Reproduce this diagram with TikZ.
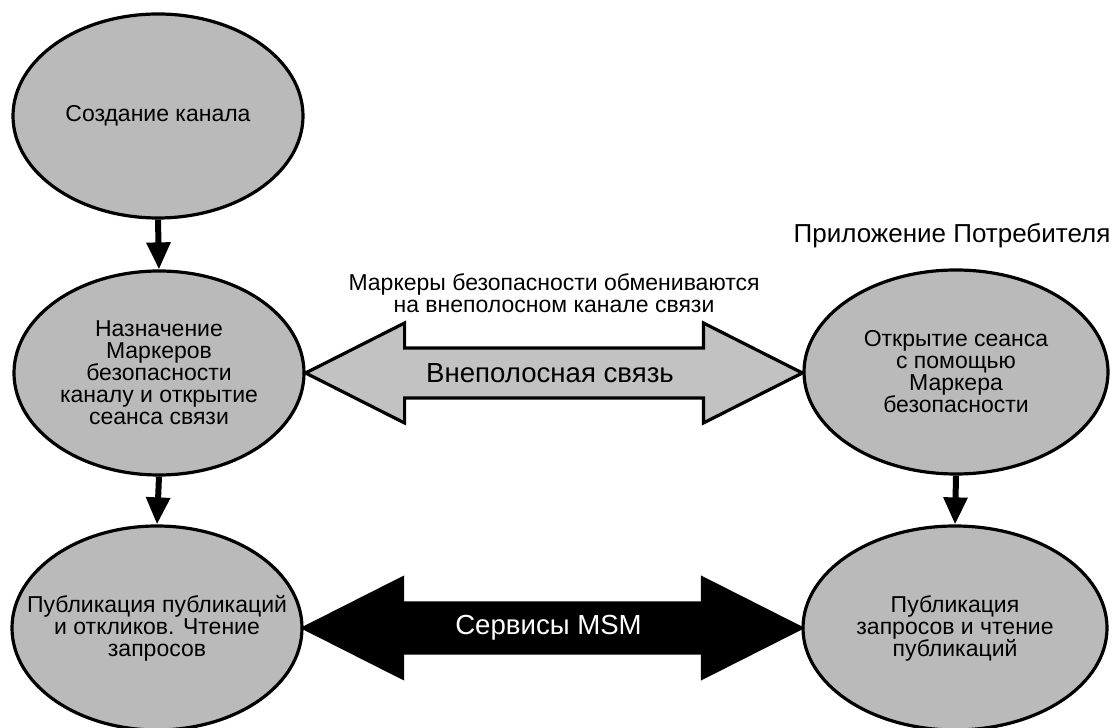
\documentclass[tikz,border=0pt]{standalone}
\usepackage{fontspec}
\setmainfont{Liberation Sans}
\usetikzlibrary{calc,positioning,arrows.meta,shapes.geometric}
\tikzset{
  >={Triangle[width=11.5pt,length=13.5pt]},
  state/.style={
    ellipse,
    draw=black, line width=1.6pt,
    fill=black!27,
    minimum width=145pt,
    minimum height=102pt
  },
  wide/.style={minimum width=152pt},
  statetext/.style={
    align=center,
    inner sep=0pt,
    font=\fontsize{11.5}{11}\selectfont
  },
  line/.style={draw, ->, line width=3pt},
  band/.style={draw=black, line width=1.6pt, line join=miter, fill=black!24},
  msm/.style={band, fill=black},
  bandtext/.style={font=\fontsize{13.8}{16}\selectfont},
}

\begin{document}
\begin{tikzpicture}[x=0.5pt, y=0.5pt]
  \useasboundingbox (0,0) rectangle (1117,727);
  % left column
  \node[state, label={[statetext]center:{Создание канала}}] (sk) at (158,611) {};
  \node[state, label={[statetext]center:{Назначение\\Маркеров\\безопасности\\каналу и открытие\\сеанса связи}}] (nm) at (159,354) {};
  \node[state, label={[statetext]center:{Публикация публикаций\\и откликов. Чтение\\запросов}}] (pp) at (157,99) {};
  % right column
  \node[state, wide, label={[statetext]center:{Открытие сеанса\\с помощью\\Маркера\\безопасности}}] (os) at (956,355) {};
  \node[state, wide, label={[statetext]center:{Публикация\\запросов и чтение\\публикаций}}] (pz) at (955,99) {};
  \node[statetext, font=\fontsize{13}{15}\selectfont] (app) at ($(os.north)+(-4,33)$) {Приложение Потребителя};

  \path[line] (sk.south) -- (nm.north);
  \path[line] (nm.south) -- (pp.north);
  \path[line] (os.south) -- (pz.north);

  % out-of-band channel
  \filldraw[band] (nm.east) -- ++(99,50) -- ++(0,-25)
    -- ($(os.west |- nm.east)+(-99,25)$) -- ++(0,25) -- (os.west |- nm.east)
    -- ++(-99,-50) -- ++(0,25) -- ($(nm.east)+(99,-25)$) -- ++(0,-25) -- cycle;
  \node[bandtext] (oob) at ($(nm.east)!0.5!(os.west |- nm.east)+(-4,0)$) {Внеполосная связь};
  \node[statetext] (tok) at ($(oob)+(4,80)$) {Маркеры безопасности обмениваются\\на внеполосном канале связи};

  % MSM services
  \filldraw[msm] (pp.east) -- ++(99,50) -- ++(0,-25)
    -- ($(pz.west |- pp.east)+(-99,25)$) -- ++(0,25) -- (pz.west |- pp.east)
    -- ++(-99,-50) -- ++(0,25) -- ($(pp.east)+(99,-25)$) -- ++(0,-25) -- cycle;
  \node[bandtext, text=white] (msmt) at ($(pp.east)!0.5!(pz.west |- pp.east)+(-4,0)$) {Сервисы MSM};
\end{tikzpicture}
\end{document}
